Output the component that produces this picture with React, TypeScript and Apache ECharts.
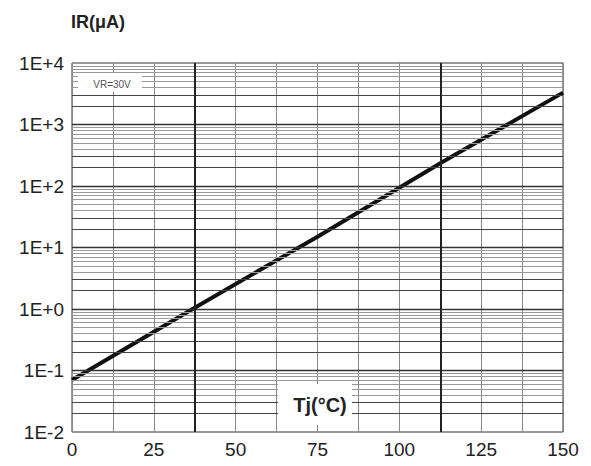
import React, { useEffect, useRef } from "react";
import * as echarts from "echarts";

const tjValues = [0, 37.5, 75, 112.5, 150];
const irValues = [0.07, 1.05, 15, 235, 3300];
const decades = [0.01, 0.1, 1, 10, 100, 1000];
const multipliers = [1, 2, 3, 4, 5, 6, 7, 8, 9];
const xMajorLines = [37.5, 112.5];
const titleText = "IR(\u03bcA)";
const xAxisTitle = "Tj(\u00b0C)";
const noteText = "VR=30V";

export default function App() {
  const ref = useRef<HTMLDivElement>(null);
  useEffect(() => {
    if (!ref.current) return;
    const chart = echarts.init(ref.current, undefined, { renderer: "svg" });
    const font = "'Liberation Sans', Arial, sans-serif";
    const hLines: any[] = [];
    decades.forEach((d) => {
      multipliers.forEach((m) => {
        const v = d * m;
        if (v <= 0.01 || v >= 10000) return;
        let color = "#999";
        let width = 1;
        if (m === 1) {
          color = "#333";
          width = 1.3;
        } else if (m === 2 || m === 3) {
          color = "#444";
          width = 1.2;
        }
        hLines.push({ yAxis: v, lineStyle: { color, width, type: "solid" } });
      });
    });
    const vLines = xMajorLines.map((x) => ({
      xAxis: x,
      lineStyle: { color: "#222", width: 2, type: "solid" },
    }));
    chart.setOption({
      animation: false,
      backgroundColor: "#fff",
      grid: {
        left: 72,
        right: 28,
        top: 63,
        bottom: 34,
        show: true,
        borderColor: "#333",
        borderWidth: 1,
      },
      xAxis: {
        type: "value",
        min: 0,
        max: 150,
        interval: 12.5,
        axisLine: { show: false },
        axisTick: { show: false },
        splitLine: { show: true, lineStyle: { color: "#888", width: 1 } },
        axisLabel: {
          margin: 8,
          fontSize: 19,
          color: "#222",
          fontFamily: font,
          formatter: (v: number) => (v % 25 === 0 ? String(v) : ""),
        },
      },
      yAxis: {
        type: "log",
        logBase: 10,
        min: 0.01,
        max: 10000,
        axisLine: { show: false },
        axisTick: { show: false },
        splitLine: { show: false },
        axisLabel: {
          margin: 8,
          fontSize: 19,
          color: "#222",
          fontFamily: font,
          formatter: (v: number) => {
            const e = Math.round(Math.log10(v));
            return "1E" + (e >= 0 ? "+" : "-") + Math.abs(e);
          },
        },
      },
      series: [
        {
          type: "line",
          data: [],
          z: 1,
          silent: true,
          markLine: {
            silent: true,
            symbol: "none",
            label: { show: false },
            data: [...hLines, ...vLines],
          },
        },
        {
          type: "line",
          z: 3,
          data: tjValues.map((x, i) => [x, irValues[i]]),
          showSymbol: false,
          symbol: "none",
          lineStyle: { color: "#111", width: 4 },
        },
      ],
      graphic: [
        {
          type: "text",
          left: 71,
          top: 13,
          style: {
            text: titleText,
            font: `bold 18px ${font}`,
            fill: "#222",
          },
        },
        {
          type: "rect",
          z: 10,
          shape: { x: 78, y: 73, width: 64, height: 19 },
          style: { fill: "#fff" },
        },
        {
          type: "text",
          z: 11,
          x: 112,
          y: 84,
          style: {
            text: noteText,
            font: `10px ${font}`,
            fill: "#555",
            align: "center",
            verticalAlign: "middle",
          },
        },
        {
          type: "rect",
          z: 10,
          shape: { x: 278, y: 384, width: 74, height: 41 },
          style: { fill: "#fff" },
        },
        {
          type: "text",
          z: 11,
          x: 320,
          y: 405,
          style: {
            text: xAxisTitle,
            font: `bold 20px ${font}`,
            fill: "#222",
            align: "center",
            verticalAlign: "middle",
          },
        },
      ],
    });
    return () => chart.dispose();
  }, []);
  return (
    <div
      ref={ref}
      style={{ position: "fixed", left: 0, top: 0, width: 591, height: 466 }}
    />
  );
}
